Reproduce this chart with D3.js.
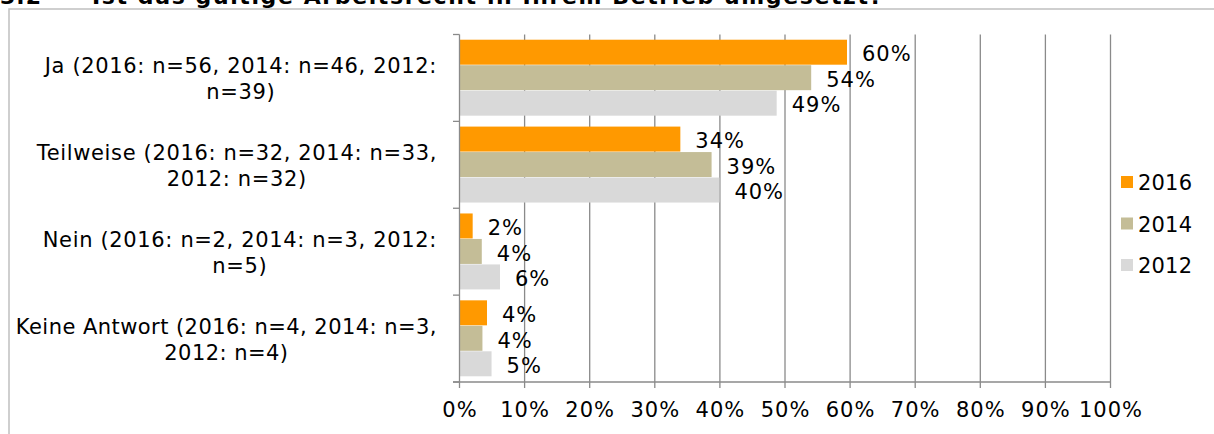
<!DOCTYPE html>
<html>
<head>
<meta charset="utf-8">
<script src="https://cdn.jsdelivr.net/npm/d3@7"></script>
<style>
  body { margin: 0; background: #fff; }
  svg { display: block; font-family: "DejaVu Sans", Verdana, sans-serif; }
</style>
</head>
<body>
<div id="chart"></div>
<script>
// categories (each label is split into its two wrapped lines)
var categories = ["Ja", "Teilweise", "Nein", "Keine Antwort"]
var categoryLines = [
    ["Ja (2016: n=56, 2014: n=46, 2012:", "n=39)"],
    ["Teilweise (2016: n=32, 2014: n=33,", "2012: n=32)"],
    ["Nein (2016: n=2, 2014: n=3, 2012:", "n=5)"],
    ["Keine Antwort (2016: n=4, 2014: n=3,", "2012: n=4)"]
]
var years = ["2016", "2014", "2012"]
// percent values
var values2016 = [59.6, 34.0, 2.1, 4.3]
var values2014 = [54.1, 38.8, 3.5, 3.6]
var values2012 = [48.8, 40.0, 6.3, 5.0]
var xTicks = [0, 10, 20, 30, 40, 50, 60, 70, 80, 90, 100]
var colours = ["#ff9900", "#c4bd97", "#d9d9d9"]
var title = "Ist das gültige Arbeitsrecht in Ihrem Betrieb umgesetzt?"

var series = [values2016, values2014, values2012]
var width = 1214, height = 434
var plotLeft = 459, plotRight = 1110, plotTop = 34.5, plotBottom = 382

var svg = d3.select("#chart").append("svg")
    .attr("width", width)
    .attr("height", height)

// clipped title strip at the very top
svg.append("text").attr("x", 0).attr("y", 4)
    .style("font-weight", "bold").style("font-size", "22px")
    .style("letter-spacing", "1px")
    .text("3.2")
svg.append("text").attr("x", 92).attr("y", 4)
    .style("font-weight", "bold").style("font-size", "22px")
    .style("letter-spacing", "1.6px")
    .text(title)

// frame
svg.append("rect")
    .attr("x", 9).attr("y", 9)
    .attr("width", 1300).attr("height", 500)
    .attr("fill", "none")
    .attr("stroke", "#c0c0c0")
    .attr("stroke-width", 1.5)

var x = d3.scaleLinear().domain([0, 100]).range([plotLeft, plotRight])
var y = d3.scaleBand().domain(categories).range([plotTop, plotBottom])
    .paddingInner(0.12).paddingOuter(0.06)
var yInner = d3.scaleBand().domain(years).range([0, y.bandwidth()])

// gridlines
svg.append("g").selectAll("line")
    .data(xTicks.slice(1))
    .enter().append("line")
    .attr("x1", function(d) { return x(d) + 0.5 })
    .attr("x2", function(d) { return x(d) + 0.5 })
    .attr("y1", plotTop)
    .attr("y2", plotBottom)
    .style("stroke", "#8a8a8a")
    .style("stroke-width", 1.3)

// bars
years.forEach(function(yr, j) {
    var g = svg.append("g")
    g.selectAll("rect")
        .data(series[j])
        .enter().append("rect")
        .attr("x", x(0) + 1)
        .attr("y", function(d, i) { return y(categories[i]) + yInner(yr) })
        .attr("width", function(d) { return x(d) - x(0) - 1 })
        .attr("height", yInner.bandwidth() - 0.5)
        .style("fill", colours[j])
    g.selectAll("text")
        .data(series[j])
        .enter().append("text")
        .attr("x", function(d) { return x(d) + 15 })
        .attr("y", function(d, i) { return y(categories[i]) + yInner(yr) + yInner.bandwidth() / 2 + 2 })
        .attr("dominant-baseline", "central")
        .style("font-size", "21px")
        .style("letter-spacing", "1px")
        .style("fill", "#000")
        .text(function(d) { return Math.round(d) + "%" })
})

// y axis
var yTickPos = categories.map(function(c, i) { return plotTop + i * (plotBottom - plotTop) / categories.length })
yTickPos.push(plotBottom)
svg.append("line")
    .attr("x1", plotLeft + 0.5).attr("x2", plotLeft + 0.5)
    .attr("y1", plotTop).attr("y2", plotBottom)
    .style("stroke", "#8a8a8a").style("stroke-width", 1.3)
svg.append("g").selectAll("line")
    .data(yTickPos)
    .enter().append("line")
    .attr("x1", plotLeft - 6).attr("x2", plotLeft + 0.5)
    .attr("y1", function(d) { return d }).attr("y2", function(d) { return d })
    .style("stroke", "#8a8a8a").style("stroke-width", 1.3)

// x axis
var xAxis = d3.axisBottom(x)
    .tickValues(xTicks)
    .tickSize(6)
    .tickSizeOuter(0)
    .tickFormat(function(d) { return d + "%" })
var ax = svg.append("g")
    .attr("transform", "translate(0," + plotBottom + ")")
    .call(xAxis)
ax.select(".domain").remove()
ax.append("line")
    .attr("x1", plotLeft - 6).attr("x2", plotRight + 0.5)
    .style("stroke", "#8a8a8a").style("stroke-width", 1.3)
ax.selectAll(".tick line").style("stroke", "#8a8a8a").style("stroke-width", 1.3)
ax.selectAll(".tick text")
    .attr("y", 20)
    .attr("dx", "0.5px")
    .style("font-family", "DejaVu Sans, Verdana, sans-serif")
    .style("font-size", "21px")
    .style("letter-spacing", "1px")
    .style("fill", "#000")

// category labels: block right-aligned, lines centered within
var labelRight = 437
categoryLines.forEach(function(lines, i) {
    var cy = y(categories[i]) + y.bandwidth() / 2 + 1
    var g = svg.append("g")
    var texts = g.selectAll("text")
        .data(lines)
        .enter().append("text")
        .attr("y", function(d, k) { return cy + (k - 0.5) * 26 })
        .attr("dominant-baseline", "central")
        .attr("text-anchor", "middle")
        .style("font-size", "21px")
        .style("letter-spacing", i == 3 ? "0.45px" : "0.65px")
        .text(function(d) { return d })
    var maxW = d3.max(texts.nodes(), function(n) { return n.getComputedTextLength() })
    texts.attr("x", labelRight - maxW / 2)
})

// legend
var legend = svg.append("g").selectAll("g")
    .data(years)
    .enter().append("g")
    .attr("transform", function(d, i) { return "translate(1121," + (182 + i * 41.5) + ")" })
legend.append("rect")
    .attr("x", 0).attr("y", -6)
    .attr("width", 12).attr("height", 12)
    .style("fill", function(d, i) { return colours[i] })
legend.append("text")
    .attr("x", 17).attr("y", 1)
    .attr("dominant-baseline", "central")
    .style("font-size", "21px")
    .style("letter-spacing", "0.2px")
    .text(function(d) { return d })
</script>
</body>
</html>
